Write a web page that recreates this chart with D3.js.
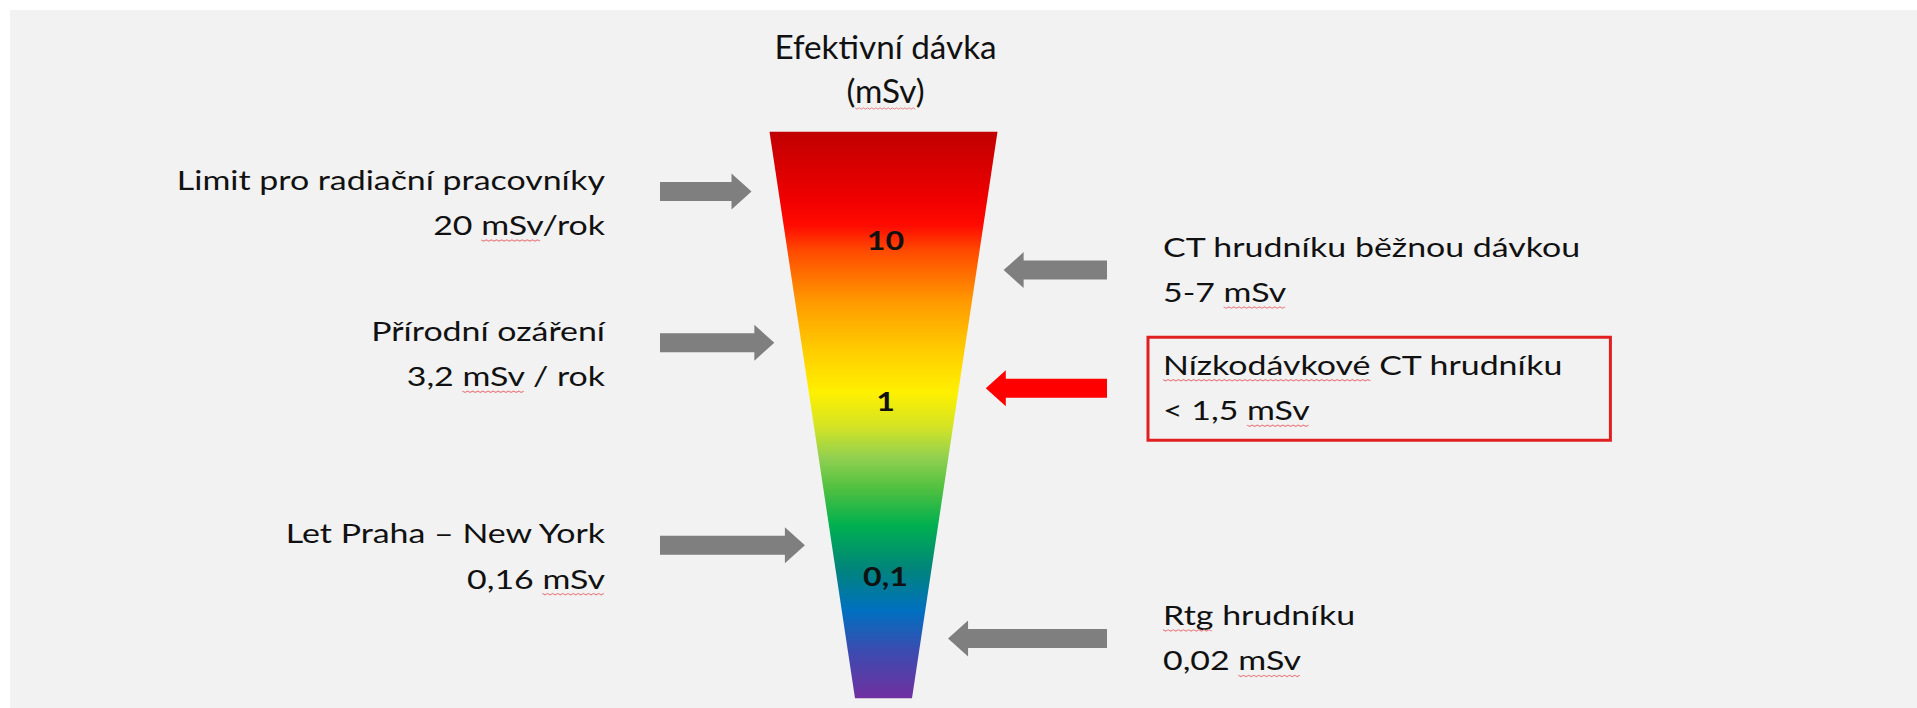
<!DOCTYPE html>
<html>
<head>
<meta charset="utf-8">
<title>Efektivní dávka</title>
<style>
  body { margin: 0; background: #fff; }
  text { font-family: Lato, "Open Sans", sans-serif; fill: #111; }
</style>
</head>
<body>
<script src="https://cdn.jsdelivr.net/npm/d3@7/dist/d3.min.js"></script>
<script>
// dose marks written inside the funnel (mSv)
var scaleTicks = [10, 1, 0.1];
var tickLabels = ["10", "1", "0,1"];
// dose at the top and at the bottom of the funnel
var funnelDoses = [47, 0.02];

var titleLines = ["Efektivní dávka", "(mSv)"];

// left side: label lines and the dose level the arrow points at
var leftLabels = [
  ["Limit pro radiační pracovníky", "20 mSv/rok"],
  ["Přírodní ozáření", "3,2 mSv / rok"],
  ["Let Praha – New York", "0,16 mSv"]
];
var leftLevels = [20, 2.3, 0.15];

// right side
var rightLabels = [
  ["CT hrudníku běžnou dávkou", "5-7 mSv"],
  ["Nízkodávkové CT hrudníku", "< 1,5 mSv"],
  ["Rtg hrudníku", "0,02 mSv"]
];
var rightLevels = [6.5, 1.2, 0.044];
var rightHighlight = [false, true, false];

// words marked by the spell checker in the original slide
var spellWords = ["mSv", "Rtg", "Nízkodávkové"];

// colour of the funnel from top (0) to bottom (1)
var stopOffsets = [0, 0.12, 0.165, 0.21, 0.30, 0.385, 0.46, 0.52, 0.575, 0.63, 0.695, 0.77, 0.845, 0.915, 1];
var stopColors = ["#c00000", "#f00000", "#ff0a00", "#ff4a00", "#ff9a00", "#ffcc00", "#fff000", "#d4e424",
                  "#92d050", "#50c040", "#00b050", "#00857a", "#0070c0", "#3a4cb0", "#7030a0"];

var W = 1917, H = 708;
var cx = 883.5;        // funnel axis
var gap = 27;          // space between arrow tip and funnel
var lineGap = 45.5;

var svg = d3.select("body").append("svg")
    .attr("width", W)
    .attr("height", H);

svg.append("rect")
    .attr("x", 10).attr("y", 10)
    .attr("width", W - 10).attr("height", H - 10)
    .attr("fill", "#f2f2f2");

var y = d3.scaleLog()
    .domain(scaleTicks)
    .range([240, 401, 576]);

var yTop = y(funnelDoses[0]),
    yBot = y(funnelDoses[1]);

var halfW = d3.scaleLinear()
    .domain([yTop, yBot])
    .range([114, 28.5]);

var grad = svg.append("defs").append("linearGradient")
    .attr("id", "dose")
    .attr("gradientUnits", "userSpaceOnUse")
    .attr("x1", 0).attr("x2", 0)
    .attr("y1", yTop).attr("y2", yBot);

grad.selectAll("stop")
  .data(stopOffsets)
  .enter().append("stop")
    .attr("offset", d => d)
    .attr("stop-color", (d, i) => stopColors[i]);

var corners = [
  [cx - halfW(yTop), yTop], [cx + halfW(yTop), yTop],
  [cx + halfW(yBot), yBot], [cx - halfW(yBot), yBot]
];
svg.append("path")
    .attr("d", d3.line()(corners) + "Z")
    .attr("fill", "url(#dose)");

// one line of slide text (the slide is stretched sideways), with spell-check squiggles
function addLine(parent, str, x, yy, anchor, size, sx, weight) {
  var g = parent.append("g")
      .attr("transform", "translate(" + x + "," + yy + ") scale(" + sx + ",1)");
  var t = g.append("text")
      .attr("text-anchor", anchor)
      .style("font-size", size + "px")
      .style("font-weight", weight || 400)
      .text(str);
  spellWords.forEach(function(w) {
    var k = str.indexOf(w);
    if (k < 0) return;
    var x0 = t.node().getStartPositionOfChar(k).x;
    var len = t.node().getSubStringLength(k, w.length);
    var pts = [];
    for (var i = 0; i <= len / 2; i++) pts.push([x0 + i * 2, 5 + (i % 2 ? 1.2 : -0.2)]);
    g.append("path")
        .attr("d", d3.line()(pts))
        .attr("fill", "none")
        .attr("stroke", "#e8797c")
        .attr("stroke-width", 0.9);
  });
  return t;
}

// title
titleLines.forEach(function(s, i) {
  addLine(svg, s, cx + 2, 59 + i * 44, "middle", 32, 1.04);
});

// dose marks
scaleTicks.forEach(function(d, i) {
  addLine(svg, tickLabels[i], cx + 2, y(d) + 10, "middle", 27, 1.19, 700);
});

function arrow(x0, tip, yc) {
  var dir = tip > x0 ? 1 : -1, base = tip - dir * 20;
  return d3.line()([
    [x0, yc - 9.5], [base, yc - 9.5], [base, yc - 18], [tip, yc],
    [base, yc + 18], [base, yc + 9.5], [x0, yc + 9.5]
  ]) + "Z";
}

var sxBody = 1.28;

leftLevels.forEach(function(d, i) {
  var yc = y(d);
  svg.append("path")
      .attr("d", arrow(660, cx - halfW(yc) - gap, yc))
      .attr("fill", "#7f7f7f");
  leftLabels[i].forEach(function(s, j) {
    addLine(svg, s, 605, yc - 2 + j * lineGap, "end", 26.5, sxBody);
  });
});

rightLevels.forEach(function(d, i) {
  var yc = y(d);
  svg.append("path")
      .attr("d", arrow(1107, cx + halfW(yc) + gap, yc))
      .attr("fill", rightHighlight[i] ? "#ff0000" : "#7f7f7f");
  var first;
  rightLabels[i].forEach(function(s, j) {
    var t = addLine(svg, s, 1163, yc - 13.5 + j * lineGap, "start", 26.5, sxBody);
    if (j == 0) first = t;
  });
  if (rightHighlight[i]) {
    var wdt = first.node().getComputedTextLength() * sxBody;
    svg.append("rect")
        .attr("x", 1163 - 15)
        .attr("y", yc - 51)
        .attr("width", wdt + 63)
        .attr("height", 103)
        .attr("fill", "none")
        .attr("stroke", "#e02020")
        .attr("stroke-width", 3);
  }
});
</script>
</body>
</html>
